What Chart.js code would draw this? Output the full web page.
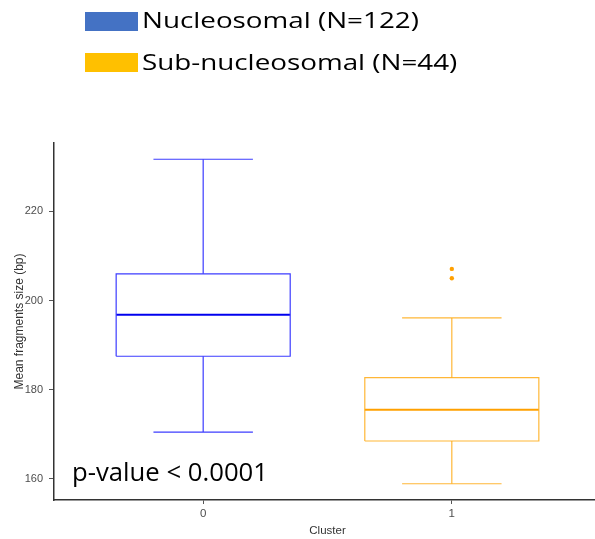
<!DOCTYPE html>
<html>
<head>
<meta charset="utf-8">
<script src="https://cdn.jsdelivr.net/npm/chart.js@4.4.0/dist/chart.umd.min.js"></script>
<style>
  html, body { margin: 0; padding: 0; overflow: hidden; background: #fff; width: 595px; height: 539px; }
  #c { position: absolute; left: 0; top: 0; }
  .leg-box { position: absolute; left: 85px; width: 53px; height: 19px; }
  .leg-txt { position: absolute; left: 142px; font-family: "Open Sans", sans-serif; font-size: 22.6px; line-height: 22.6px; color: #000; white-space: nowrap; transform: scaleX(1.23); transform-origin: 0 0; }
  #pval { position: absolute; left: 72px; top: 459px; font-family: "Open Sans", sans-serif; font-size: 25.7px; line-height: 25.7px; color: #000; white-space: nowrap; }
</style>
</head>
<body>
<canvas id="c" width="601" height="539"></canvas>
<div id="legend"></div>
<div id="pval">p-value &lt; 0.0001</div>
<script>
// ---- data ----
const categories = ['0', '1'];
const seriesNames = ['Nucleosomal (N=122)', 'Sub-nucleosomal (N=44)'];
const legendColors = ['#4472C4', '#FFC000'];
const whiskerLow = [170.5, 158.9];
const q1 = [187.5, 168.5];
const median = [196.8, 175.5];
const q3 = [206.0, 182.7];
const whiskerHigh = [231.7, 196.1];
const outliers = [[], [205.0, 207.1]];
const yTicks = [160, 180, 200, 220];

// ---- styles ----
const boxColors = ['#3c3cff', 'rgba(255,170,20,0.85)'];
const medColors = ['#0000ee', '#ffa000'];
const BOX_HALF = 0.35, CAP_HALF = 0.2;
const AXIS_FONT = "'Liberation Sans', Arial, sans-serif";

// HTML legend
const legEl = document.getElementById('legend');
const legTops = [12, 53], txtTops = [9.2, 51.4];
seriesNames.forEach((n, i) => {
  const b = document.createElement('div');
  b.className = 'leg-box'; b.style.top = legTops[i] + 'px'; b.style.background = legendColors[i];
  const t = document.createElement('div');
  t.className = 'leg-txt'; t.style.top = txtTops[i] + 'px'; t.textContent = n;
  legEl.appendChild(b); legEl.appendChild(t);
});

const lineDs = (data, color, width) => ({
  type: 'line', data, borderColor: color, borderWidth: width, pointRadius: 0,
  fill: false, tension: 0, showLine: true
});

const datasets = [];
categories.forEach((c, g) => {
  const col = boxColors[g];
  datasets.push(lineDs([
    {x: g - BOX_HALF, y: q1[g]}, {x: g + BOX_HALF, y: q1[g]},
    {x: g + BOX_HALF, y: q3[g]}, {x: g - BOX_HALF, y: q3[g]},
    {x: g - BOX_HALF, y: q1[g]}], col, 1.2));
  datasets.push(lineDs([{x: g - BOX_HALF, y: median[g]}, {x: g + BOX_HALF, y: median[g]}], medColors[g], 2));
  datasets.push(lineDs([{x: g, y: q3[g]}, {x: g, y: whiskerHigh[g]}], col, 1.2));
  datasets.push(lineDs([{x: g - CAP_HALF, y: whiskerHigh[g]}, {x: g + CAP_HALF, y: whiskerHigh[g]}], col, 1.2));
  datasets.push(lineDs([{x: g, y: q1[g]}, {x: g, y: whiskerLow[g]}], col, 1.2));
  datasets.push(lineDs([{x: g - CAP_HALF, y: whiskerLow[g]}, {x: g + CAP_HALF, y: whiskerLow[g]}], col, 1.2));
  if (outliers[g].length) {
    datasets.push({
      type: 'line', showLine: false, data: outliers[g].map(v => ({x: g, y: v})),
      pointRadius: 2.2, pointBackgroundColor: medColors[g], pointBorderWidth: 0, borderColor: medColors[g]
    });
  }
});

new Chart(document.getElementById('c'), {
  type: 'line',
  data: { datasets },
  options: {
    responsive: false, maintainAspectRatio: false, animation: false, devicePixelRatio: 1,
    layout: { autoPadding: false, padding: { top: 143, left: 0, right: 0, bottom: 0 } },
    plugins: { legend: { display: false }, tooltip: { enabled: false } },
    scales: {
      x: {
        type: 'linear', min: -0.6, max: 1.6,
        afterBuildTicks: a => { a.ticks = categories.map((c, i) => ({ value: i })); },
        ticks: { callback: v => categories[v], color: '#4d4d4d', font: { family: AXIS_FONT, size: 11.5 }, padding: 3, maxRotation: 0 },
        grid: { drawOnChartArea: false, tickLength: 4, color: '#555' },
        border: { display: true, color: '#333', width: 1.5 },
        title: { display: true, text: 'Cluster', color: '#333', font: { family: AXIS_FONT, size: 11.5 }, padding: { top: 0, bottom: 1 } },
        afterFit: s => { s.height = 39; }
      },
      y: {
        min: 155.26, max: 235.34,
        afterBuildTicks: a => { a.ticks = yTicks.map(v => ({ value: v })); },
        ticks: { color: '#4d4d4d', font: { family: AXIS_FONT, size: 11 }, padding: 6 },
        grid: { drawOnChartArea: false, tickLength: 5, color: '#555' },
        border: { display: true, color: '#333', width: 1.5 },
        title: { display: true, text: 'Mean fragments size (bp)', color: '#333', font: { family: AXIS_FONT, size: 12 }, padding: { top: 12, bottom: 0 } },
        afterFit: s => { s.width = 54; }
      }
    }
  }
});
</script>
</body>
</html>
